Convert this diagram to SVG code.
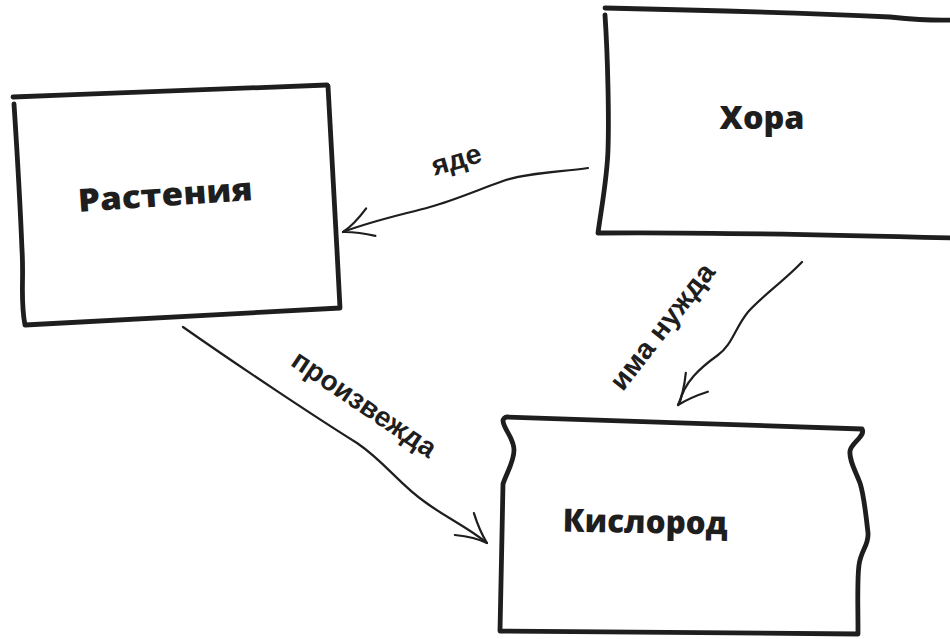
<svg xmlns="http://www.w3.org/2000/svg" width="950" height="639" viewBox="0 0 950 639">
<defs>
<style>
.box{fill:none;stroke:#1e1e1e;stroke-width:4.8;stroke-linecap:round;stroke-linejoin:round}
.lbl{font-family:"Open Sans","Noto Sans","DejaVu Sans",sans-serif;font-weight:800;font-size:32px;fill:#1e1e1e;text-anchor:middle}
.edge{fill:none;stroke:#1e1e1e;stroke-width:2.2;stroke-linecap:round;stroke-linejoin:round}
.elbl{font-family:"Liberation Sans",Arial,sans-serif;font-weight:700;font-size:28px;fill:#1e1e1e;text-anchor:middle}
</style>
<marker id="arrow" markerUnits="userSpaceOnUse" markerWidth="40" markerHeight="40" viewBox="-34 -20 40 40" refX="0" refY="0" orient="auto">
<path d="M-29,-15 Q-14,-5 0,0 Q-13,3 -30,14" fill="none" stroke="#1e1e1e" stroke-width="2.2" stroke-linecap="round" stroke-linejoin="round"/>
</marker>
</defs>
<rect x="0" y="0" width="950" height="639" fill="#ffffff"/>

<g id="connectors">
<g id="edge-yade">
<path class="edge" d="M588,168 C560,172 525,173 503,181 C480,189 455,200 430,207 C405,214 375,220 343,232" marker-end="url(#arrow)"/>
<text class="elbl" transform="translate(457,162) rotate(-16)" x="0" y="7" textLength="51" lengthAdjust="spacingAndGlyphs">яде</text>
</g>
<g id="edge-proizvezhda">
<path class="edge" d="M183,327 C240,367 320,420 357,443 C385,462 400,485 425,502 C445,517 466,526 487,543" marker-end="url(#arrow)"/>
<text class="elbl" transform="translate(363,406) rotate(34)" x="0" y="7" textLength="168" lengthAdjust="spacingAndGlyphs">произвежда</text>
</g>
<g id="edge-ima-nuzhda">
<path class="edge" d="M802,262 C785,280 760,298 748,312 C735,328 732,345 718,355 C700,368 684,382 679.6,403 L678,405" marker-end="url(#arrow)"/>
<text class="elbl" transform="translate(664,328) rotate(-52)" x="0" y="7" textLength="152" lengthAdjust="spacingAndGlyphs">има нужда</text>
</g>
</g>

<g id="node-rasteniya">
<path d="M25,325 C20,300 24,280 22,250 C20,200 17,150 14,104 L13,97 L327,85 L328,86 C331,140 336,230 340,308 Z" fill="#ffffff" stroke="none"/>
<path class="box" d="M13,97 C120,93 230,88 327,85"/>
<path class="box" d="M328,86 C331,140 336,230 340,308 C230,314 120,320 25,325 C20,300 24,280 22,250 C20,200 17,150 14,104"/>
<text class="lbl" transform="translate(166,206) rotate(-4)" x="0" y="0" textLength="175" lengthAdjust="spacingAndGlyphs">Растения</text>
</g>

<g id="node-hora">
<path d="M605,8 L952,20 L952,238 L598,233 Z" fill="#ffffff" stroke="none"/>
<path class="box" d="M605,8 C700,10 800,13 890,17 C910,19 930,21 952,20"/>
<path class="box" d="M605,15 C608,60 609,120 608,150 C607,180 601,210 598,233 C700,232 800,234 952,238"/>
<text class="lbl" x="762" y="129" textLength="85" lengthAdjust="spacingAndGlyphs">Хора</text>
</g>

<g id="node-kislorod">
<path class="box" fill="#ffffff" d="M507,417 C620,421 750,425 862,429 C866,436 851,443 850,451 C849,460 855,470 860,483 C864,495 866,515 868,533 C869,545 861,550 859,565 C857,580 858,600 858,634 C740,632 620,632 500,631 C501,590 502,530 503,484 C506,474 514,462 514,450 C514,438 504,430 503,421 C503,419 505,417 507,417 Z"/>
<text class="lbl" transform="translate(645,533) rotate(1)" x="0" y="0" textLength="165" lengthAdjust="spacingAndGlyphs">Кислород</text>
</g>
</svg>
